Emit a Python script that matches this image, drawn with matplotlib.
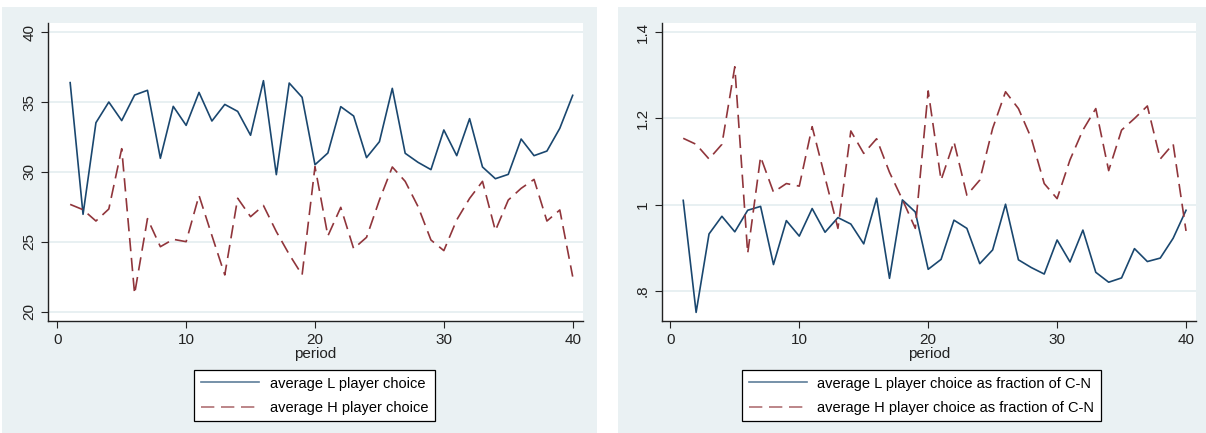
import matplotlib
matplotlib.use("Agg")
import matplotlib.pyplot as plt
from matplotlib.patches import Rectangle

# ---------------- data ----------------
period = list(range(1, 41))

L_choice = [36.4, 26.97, 33.53, 35.01, 33.68, 35.51, 35.85, 30.98, 34.70, 33.34,
            35.70, 33.65, 34.84, 34.34, 32.63, 36.54, 29.81, 36.37, 35.35, 30.52,
            31.36, 34.68, 34.01, 31.03, 32.17, 35.99, 31.34, 30.69, 30.17, 33.01,
            31.17, 33.82, 30.36, 29.52, 29.83, 32.36, 31.17, 31.50, 33.13, 35.49]

H_choice = [27.68, 27.30, 26.49, 27.35, 31.67, 21.27, 26.66, 24.65, 25.18, 25.01,
            28.32, 25.45, 22.63, 28.12, 26.80, 27.60, 25.73, 24.10, 22.63, 30.38,
            25.42, 27.47, 24.51, 25.32, 27.99, 30.36, 29.33, 27.52, 25.13, 24.37,
            26.57, 28.11, 29.33, 25.80, 27.99, 28.83, 29.47, 26.49, 27.28, 22.51]

L_frac = [1.010, 0.750, 0.932, 0.973, 0.937, 0.987, 0.996, 0.861, 0.963, 0.927,
          0.991, 0.936, 0.970, 0.955, 0.909, 1.015, 0.829, 1.011, 0.983, 0.850,
          0.873, 0.964, 0.945, 0.863, 0.895, 1.001, 0.872, 0.854, 0.839, 0.918,
          0.867, 0.941, 0.843, 0.820, 0.830, 0.898, 0.868, 0.876, 0.922, 0.987]

H_frac = [1.154, 1.140, 1.106, 1.140, 1.320, 0.887, 1.111, 1.029, 1.049, 1.043,
          1.181, 1.063, 0.945, 1.171, 1.119, 1.153, 1.075, 1.012, 0.945, 1.264,
          1.057, 1.146, 1.022, 1.057, 1.177, 1.262, 1.223, 1.154, 1.049, 1.014,
          1.104, 1.173, 1.223, 1.079, 1.173, 1.200, 1.229, 1.106, 1.141, 0.939]

x_ticks = [0, 10, 20, 30, 40]
left_yticks = [20, 25, 30, 35, 40]
left_yticklabels = ["20", "25", "30", "35", "40"]
right_yticks = [0.8, 1.0, 1.2, 1.4]
right_yticklabels = [".8", "1", "1.2", "1.4"]
x_label = "period"
left_legend = ["average L player choice", "average H player choice"]
right_legend = ["average L player choice as fraction of C-N",
                "average H player choice as fraction of C-N"]

# ---------------- style ----------------
W, H = 1206, 433
DPI = 100
BG = "#EAF1F3"
GRID = "#E6EFF1"
NAVY = "#1A476F"
MAROON = "#90353B"
FONT = ["Liberation Sans", "DejaVu Sans"]
plt.rcParams["font.family"] = FONT
plt.rcParams["font.size"] = 10.5

fig = plt.figure(figsize=(W / DPI, H / DPI), dpi=DPI, facecolor="white")

# panel backgrounds
fig.patches.append(Rectangle((2 / W, 0), (597 - 2) / W, (H - 7) / H,
                             transform=fig.transFigure, facecolor=BG,
                             edgecolor="none", zorder=-10))
fig.patches.append(Rectangle((618 / W, 0), (W - 618) / W, (H - 7) / H,
                             transform=fig.transFigure, facecolor=BG,
                             edgecolor="none", zorder=-10))


def make_axes(x0, x1, y0, y1):
    return fig.add_axes([x0 / W, (H - y1) / H, (x1 - x0) / W, (y1 - y0) / H])


def style(ax, xlim, ylim, yticks, ylabels):
    ax.set_facecolor("white")
    ax.set_xlim(*xlim)
    ax.set_ylim(*ylim)
    ax.set_xticks(x_ticks)
    ax.set_xticklabels([str(t) for t in x_ticks])
    ax.set_yticks(yticks)
    ax.set_yticklabels(ylabels, rotation=90, va="center")
    for s in ["top", "right"]:
        ax.spines[s].set_visible(False)
    for s in ["left", "bottom"]:
        ax.spines[s].set_color("#222222")
        ax.spines[s].set_linewidth(1.0)
    ax.tick_params(axis="both", direction="out", length=5, width=0.8,
                   color="#222222", labelsize=11, labelcolor="#222222", pad=3.5)
    ax.grid(axis="y", color=GRID, linewidth=1.3)
    ax.set_axisbelow(True)
    ax.set_xlabel(x_label, fontsize=11, labelpad=0, color="#222222")


def draw(ax, ys_L, ys_H, labels, cx):
    l1, = ax.plot(period, ys_L, color=NAVY, linewidth=1.2, label=labels[0])
    l2, = ax.plot(period, ys_H, color=MAROON, linewidth=1.2,
                  linestyle=(0, (8, 4)), label=labels[1])
    leg = ax.legend(handles=[l1, l2], loc="upper center",
                    bbox_to_anchor=(cx / W, (H - 370) / H),
                    bbox_transform=fig.transFigure, frameon=True,
                    fancybox=False, edgecolor="black", facecolor="white",
                    framealpha=1, fontsize=10.5, handlelength=4.0,
                    handletextpad=0.7, labelspacing=0.7, borderpad=0.45,
                    borderaxespad=0)
    leg.get_frame().set_linewidth(0.9)
    for h in leg.get_lines():
        h.set_alpha(0.7)
    return leg


axL = make_axes(48, 583, 23, 321)
style(axL, (-0.72, 40.8), (19.33, 40.67), left_yticks, left_yticklabels)
draw(axL, L_choice, H_choice, left_legend, 314.5)

axR = make_axes(661.7, 1195.7, 23, 321)
style(axR, (-0.67, 40.75), (0.73, 1.4216), right_yticks, right_yticklabels)
draw(axR, L_frac, H_frac, right_legend, 921.5)

fig.savefig("out.png", dpi=DPI, facecolor="white")
